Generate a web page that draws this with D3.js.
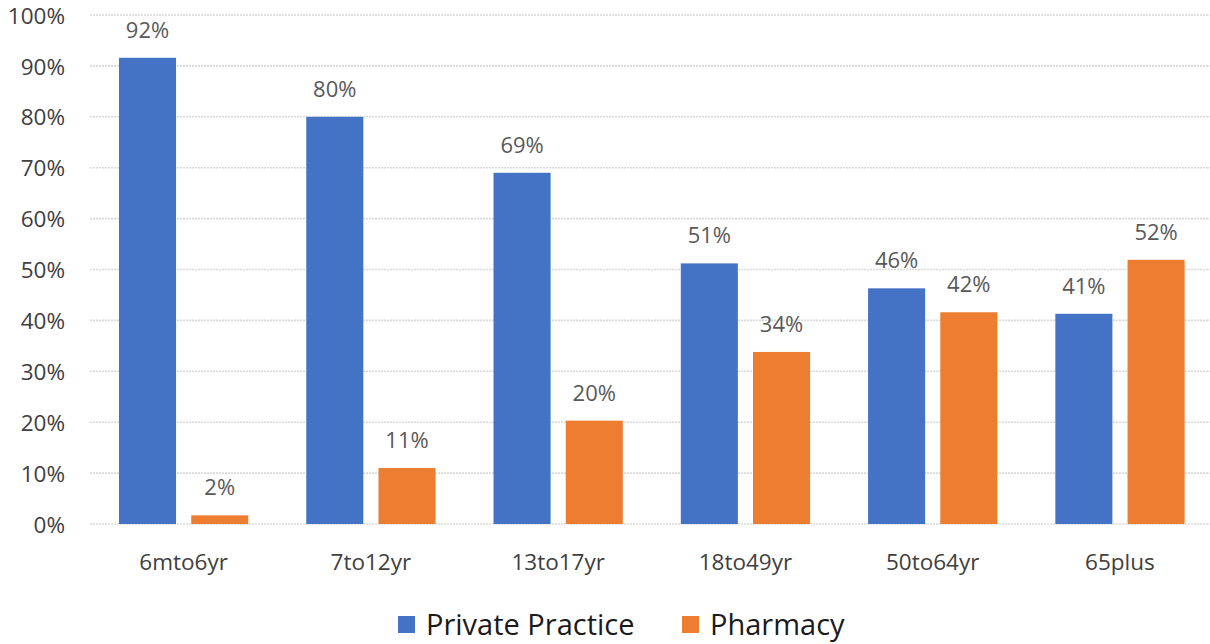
<!DOCTYPE html>
<html><head><meta charset="utf-8">
<script src="https://cdn.jsdelivr.net/npm/d3@7"></script>
<style>
html,body{margin:0;padding:0;background:#fff;}
svg{display:block;font-family:"Open Sans",sans-serif;}
</style></head>
<body>
<svg id="chart" width="1210" height="644"></svg>
<script>
const categories = ["6mto6yr","7to12yr","13to17yr","18to49yr","50to64yr","65plus"];
const seriesNames = ["Private Practice","Pharmacy"];
const privatePractice = [91.6, 80.0, 69.0, 51.2, 46.3, 41.3];
const pharmacy = [1.7, 11.0, 20.3, 33.8, 41.6, 51.9];
const yTicks = [0,10,20,30,40,50,60,70,80,90,100];
const colors = ["#4472C4","#ED7D31"];

(function(){
const FONT = "Open Sans, sans-serif";
const svg = d3.select("#chart");
const pLeft = 90, pRight = 1213.6, pTop = 15, pBottom = 524;

const x0 = d3.scaleBand().domain(categories).range([pLeft, pRight]).paddingInner(0).paddingOuter(0);
const x1 = d3.scaleBand().domain(seriesNames).range([29, x0.bandwidth() - 29]).paddingInner(0.21);
const y = d3.scaleLinear().domain([0,100]).range([pBottom, pTop]);

// gridlines
svg.append("g").selectAll("line").data(yTicks).join("line")
  .attr("x1", pLeft).attr("x2", 1210)
  .attr("y1", d => y(d)).attr("y2", d => y(d))
  .attr("stroke", "#d9d9d9").attr("stroke-width", 1.6)
  .attr("stroke-dasharray", "2,1");

// y-axis labels
const yAxis = d3.axisLeft(y).tickValues(yTicks).tickFormat(d => d + "%").tickSize(0).tickPadding(0);
const yg = svg.append("g").attr("transform", `translate(65,0)`).call(yAxis);
yg.select(".domain").remove();
yg.selectAll("text").attr("font-size", 22.5).attr("fill", "#404040")
  .attr("font-family", FONT).attr("dy", "0.36em");

// x-axis labels
const xAxis = d3.axisBottom(x0).tickSize(0).tickPadding(0);
const xg = svg.append("g").attr("transform", `translate(0,0)`).call(xAxis);
xg.select(".domain").remove();
xg.selectAll("text").attr("font-size", 22.5).attr("fill", "#404040")
  .attr("font-family", FONT).attr("y", 570).attr("dy", 0);

const data = categories.map((c,i) => ({cat:c, vals:[
  {s:seriesNames[0], v:privatePractice[i], c:colors[0]},
  {s:seriesNames[1], v:pharmacy[i], c:colors[1]}
]}));

const groups = svg.append("g").selectAll("g").data(data).join("g")
  .attr("transform", d => `translate(${x0(d.cat)},0)`);

groups.selectAll("rect").data(d => d.vals).join("rect")
  .attr("x", d => x1(d.s)).attr("width", x1.bandwidth())
  .attr("y", d => y(d.v)).attr("height", d => pBottom - y(d.v))
  .attr("fill", d => d.c);

groups.selectAll("text.lbl").data(d => d.vals).join("text")
  .attr("class","lbl")
  .attr("x", d => x1(d.s) + x1.bandwidth()/2)
  .attr("y", d => y(d.v) - 20)
  .attr("text-anchor","middle")
  .attr("font-size", 22).attr("fill", "#595959")
  .attr("font-family", FONT)
  .text(d => Math.round(d.v) + "%");

// legend
const legend = svg.append("g");
const legendItems = [{name:seriesNames[0], c:colors[0], x:398}, {name:seriesNames[1], c:colors[1], x:682}];
legendItems.forEach(it => {
  legend.append("rect").attr("x", it.x).attr("y", 616).attr("width", 17).attr("height", 17).attr("fill", it.c);
  legend.append("text").attr("x", it.x + 28).attr("y", 635).attr("font-size", 29).attr("fill", "#1a1a1a")
    .attr("font-family", FONT).text(it.name);
});
})();
</script>
</body></html>
